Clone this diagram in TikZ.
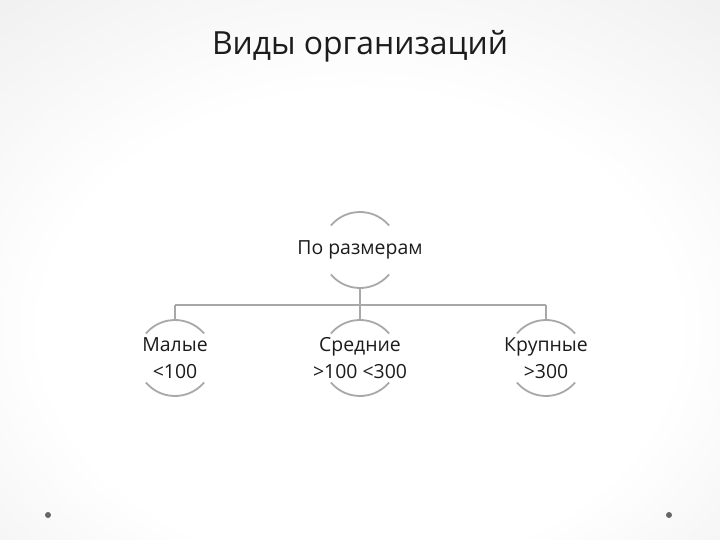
\documentclass[tikz,border=0pt]{standalone}
\usepackage{fontspec}
\setmainfont{Open Sans}
\usepackage{tikz}
\usetikzlibrary{positioning}
\usetikzlibrary{shapes.geometric}
\definecolor{arcgray}{HTML}{A8A8A8}
\definecolor{inkgray}{HTML}{1C1C1C}
\pgfdeclareradialshading{slidebg}{\pgfpoint{0bp}{-8bp}}{%
  color(0bp)=(white); color(22bp)=(white); color(50bp)=(black!10); color(72bp)=(black!20)}
\tikzset{
  ring/.style={circle, minimum size=76bp, inner sep=0pt, outer sep=0pt},
  ringtext/.style={align=center, text=inkgray, font=\fontsize{19.5}{27}\selectfont},
  arcline/.style={draw=arcgray, line width=1.8bp},
  link/.style={draw=arcgray, line width=1.4bp},
}
\newcommand{\halfarcs}[1]{ % Takes node name: draws the top and bottom arcs of its ring
    \draw[arcline] (#1.40) arc (40:140:38bp);
    \draw[arcline] (#1.-40) arc (-40:-140:38bp);
}

\begin{document}
\begin{tikzpicture}[x=1bp, y=-1bp]
            % Background
            \useasboundingbox (0,0) rectangle (720,540);
            \shade[shading=slidebg] (0,0) rectangle (720,540);

            % Title
            \node[text=inkgray, font=\fontsize{32}{38}\selectfont] (title) at (360,46) {Виды организаций};

            % Nodes
            \node[ring, label={[ringtext]center:По размерам}] (bysize) at (360,250) {};
            \node[ring, label={[ringtext]center:Малые\\<100}] (small) at (175,358) {};
            \node[ring, label={[ringtext]center:Средние\\>100 <300}] (medium) at (360,358) {};
            \node[ring, label={[ringtext]center:Крупные\\>300}] (large) at (546,358) {};

            \halfarcs{bysize}
            \halfarcs{small}
            \halfarcs{medium}
            \halfarcs{large}

            % Connectors
            \coordinate (bus) at (360,305);
            \draw[link] (bysize.south) -- (bus);
            \draw[link] (bus -| small.north) -- (bus -| large.north);
            \draw[link] (bus -| small.north) -- (small.north);
            \draw[link] (bus) -- (medium.north);
            \draw[link] (bus -| large.north) -- (large.north);

            % Corner dots
            \fill[black!60] (48,515) circle (3bp) coordinate (dotleft);
            \fill[black!60] (669,515) circle (3bp) coordinate (dotright);
        \end{tikzpicture}
\end{document}
